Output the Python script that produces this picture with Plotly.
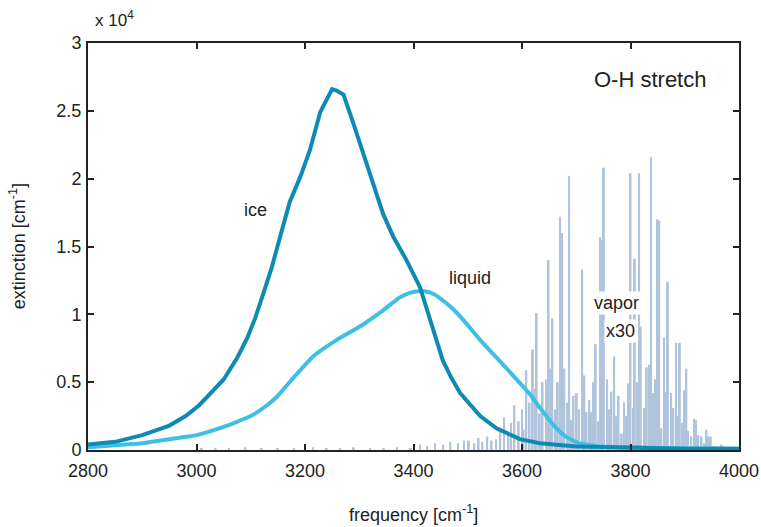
import plotly.graph_objects as go

# ---- data (extinction in units of 10^4 cm^-1) ----
ice_freq = [2800, 2850, 2900, 2950, 2980, 3005, 3050, 3075, 3093, 3108, 3123, 3139,
            3154, 3172, 3191, 3209, 3228, 3240, 3250, 3258, 3271, 3289, 3307, 3326,
            3344, 3363, 3387, 3412, 3427, 3440, 3454, 3470, 3486, 3523, 3553, 3596,
            3633, 3700, 3800, 3900, 4000]
ice_val = [0.04, 0.06, 0.11, 0.18, 0.25, 0.33, 0.52, 0.68, 0.82, 0.97, 1.15, 1.35,
           1.57, 1.83, 2.01, 2.21, 2.49, 2.59, 2.66, 2.65, 2.62, 2.41, 2.19, 1.97,
           1.74, 1.57, 1.40, 1.20, 1.01, 0.83, 0.66, 0.53, 0.42, 0.25, 0.16, 0.08,
           0.05, 0.025, 0.015, 0.01, 0.01]

liq_freq = [2800, 2850, 2900, 2950, 3000, 3050, 3100, 3130, 3150, 3178, 3215, 3258,
            3301, 3344, 3375, 3395, 3409, 3420, 3437, 3455, 3475, 3498, 3523, 3558, 3590,
            3615, 3635, 3661, 3680, 3705, 3750, 3850, 4000]
liq_val = [0.02, 0.035, 0.05, 0.08, 0.11, 0.17, 0.25, 0.33, 0.40, 0.53, 0.69, 0.81,
           0.91, 1.03, 1.125, 1.16, 1.17, 1.17, 1.15, 1.10, 1.03, 0.93, 0.81, 0.66, 0.52,
           0.41, 0.30, 0.17, 0.10, 0.05, 0.025, 0.015, 0.01]

vap_freq = [3010, 3035, 3060, 3090, 3120, 3150, 3180, 3215, 3240, 3265, 3290, 3320,
            3345, 3370, 3395, 3412, 3425, 3440, 3455, 3468, 3482, 3493, 3502, 3512,
            3520, 3527, 3536, 3544, 3552, 3560, 3567, 3575, 3580, 3586, 3594, 3600,
            3603, 3608, 3614, 3620, 3624, 3627, 3633, 3638, 3645, 3649, 3653, 3656,
            3662, 3666, 3670, 3674, 3678, 3683, 3687, 3691, 3695, 3701, 3705, 3711,
            3715, 3719, 3724, 3728, 3732, 3736, 3740, 3744, 3747, 3751, 3757, 3761,
            3765, 3770, 3774, 3778, 3784, 3788, 3792, 3796, 3800, 3805, 3808, 3812,
            3816, 3819, 3825, 3830, 3834, 3838, 3842, 3846, 3850, 3853, 3857, 3862,
            3866, 3869, 3875, 3879, 3884, 3888, 3891, 3895, 3899, 3903, 3906, 3912,
            3917, 3921, 3925, 3931, 3936, 3940, 3943, 3948, 3955, 3968, 3980]
vap_val = [0.01, 0.015, 0.01, 0.02, 0.01, 0.015, 0.01, 0.02, 0.015, 0.01, 0.02, 0.01,
           0.015, 0.02, 0.015, 0.04, 0.03, 0.05, 0.04, 0.06, 0.05, 0.07, 0.07, 0.05,
           0.09, 0.06, 0.10, 0.07, 0.08, 0.15, 0.24, 0.12, 0.20, 0.33, 0.21, 0.30,
           0.15, 0.59, 0.35, 0.74, 0.45, 1.01, 0.27, 0.50, 0.52, 1.40, 0.60, 0.97,
           0.30, 0.50, 1.72, 1.60, 0.60, 0.35, 2.02, 0.22, 0.40, 0.42, 0.30, 1.33,
           0.55, 0.28, 0.37, 0.28, 0.50, 0.78, 0.21, 1.57, 1.55, 2.08, 0.52, 0.30,
           0.43, 0.69, 0.25, 0.40, 0.12, 0.35, 0.25, 0.49, 2.04, 0.31, 1.41, 0.50,
           2.04, 0.91, 0.31, 0.61, 0.63, 2.16, 0.42, 0.52, 1.70, 1.69, 0.16, 0.83,
           0.43, 1.24, 0.42, 0.31, 0.79, 0.25, 0.79, 0.20, 0.44, 0.60, 0.14, 0.10,
           0.23, 0.22, 0.11, 0.10, 0.05, 0.15, 0.10, 0.10, 0.03, 0.04, 0.01]

x_ticks = [2800, 3000, 3200, 3400, 3600, 3800, 4000]
y_ticks = [0, 0.5, 1, 1.5, 2, 2.5, 3]
y_tick_text = ["0", "0.5", "1", "1.5", "2", "2.5", "3"]

ICE = "#0e8ab5"
LIQ = "#40bfe6"
VAP = "#b0c4de"
FONT = "Liberation Sans"

fig = go.Figure()
fig.add_trace(go.Bar(x=vap_freq, y=vap_val, width=3.5, marker=dict(color=VAP, line=dict(width=0)),
                     showlegend=False, hoverinfo="skip"))
fig.add_trace(go.Scatter(x=liq_freq, y=liq_val, mode="lines",
                         line=dict(color=LIQ, width=4, shape="spline", smoothing=0.4),
                         showlegend=False))
fig.add_trace(go.Scatter(x=ice_freq, y=ice_val, mode="lines",
                         line=dict(color=ICE, width=4, shape="linear"),
                         showlegend=False))

axis_common = dict(showline=True, linecolor="#222222", linewidth=2, mirror="ticks",
                   ticks="inside", ticklen=6, tickwidth=1.5, tickcolor="#222222",
                   showgrid=False, zeroline=False, automargin=False,
                   tickfont=dict(family=FONT, size=18, color="#222222"))

fig.update_xaxes(range=[2800, 4000], tickvals=x_ticks, ticktext=[str(t) for t in x_ticks],
                 ticklabelstandoff=3, **axis_common)
fig.update_yaxes(range=[0, 3], tickvals=y_ticks, ticktext=y_tick_text,
                 ticklabelstandoff=1, **axis_common)

txt = dict(family=FONT, size=18, color="#222222")
anns = [
    dict(x=3108, y=1.77, text="ice", showarrow=False, font=txt),
    dict(x=3504, y=1.27, text="liquid", showarrow=False, font=txt),
    dict(x=3775, y=1.08, text="vapor", showarrow=False, font=txt, bgcolor="white"),
    dict(x=3781, y=0.88, text="x30", showarrow=False, font=txt, bgcolor="white"),
    dict(x=3836, y=2.73, text="O-H stretch", showarrow=False,
         font=dict(family=FONT, size=22, color="#222222")),
    dict(x=0.04, y=1.058, xref="paper", yref="paper", text="x 10<sup>4</sup>",
         xanchor="center", yanchor="middle",
         showarrow=False, font=dict(family=FONT, size=17, color="#222222")),
    dict(x=0.5, y=-0.157, xref="paper", yref="paper", text="frequency [cm<sup>-1</sup>]",
         xanchor="center", yanchor="middle", showarrow=False, font=txt),
    dict(x=-0.108, y=0.5, xref="paper", yref="paper", text="extinction [cm<sup>-1</sup>]",
         xanchor="center", yanchor="middle", showarrow=False, textangle=-90, font=txt),
]

fig.update_layout(width=761, height=527, margin=dict(l=88, r=22, t=43, b=77),
                  plot_bgcolor="white", paper_bgcolor="white", barmode="overlay",
                  annotations=anns, font=dict(family=FONT))

fig.write_html("out.html", config={"displayModeBar": False},
               post_script="document.body.style.margin='0';")
